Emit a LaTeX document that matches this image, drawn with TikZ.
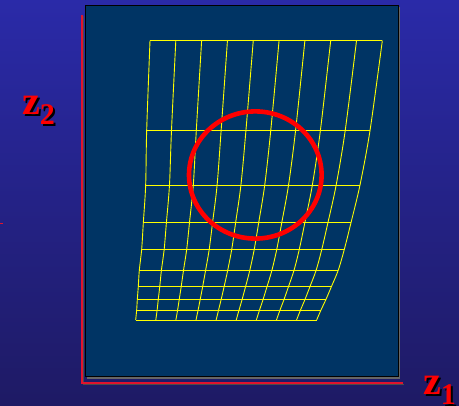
\documentclass[tikz,border=0pt]{standalone}
\usepackage{fontspec}
\setmainfont{Liberation Serif}
\definecolor{bgtop}{RGB}{42,42,168}
\definecolor{bgbot}{RGB}{30,26,100}
\definecolor{boxfill}{RGB}{0,52,100}
\definecolor{axisred}{RGB}{225,20,45}
\definecolor{gridyellow}{RGB}{255,255,0}
\tikzset{
  gridline/.style={draw=gridyellow, line width=0.9pt},
  axisline/.style={draw=axisred, line width=2pt},
  lbl/.style={anchor=base west, inner sep=0pt, font=\bfseries\fontsize{40}{40}\selectfont},
}
\newcommand{\zlab}[1]{z\raisebox{-10pt}{\fontsize{30}{30}\selectfont #1}}
\begin{document}
\begin{tikzpicture}[x=1pt,y=-1pt]
\useasboundingbox (0,0) rectangle (459,406);
\shade[top color=bgtop, bottom color=bgbot] (0,0) rectangle (459,406);
% axes
\draw[black!70, line width=1pt] (83,16) -- (83,384.5) -- (404,384.5);
\draw[axisline] (81.5,15) -- (81.5,383) -- (403,383);
\draw[axisred, line width=0.8pt] (0,223) -- (3,223);
% box
\fill[black!60] (87,7) rectangle (400,379);
\draw[fill=boxfill, draw=black, line width=1pt] (85.5,5.5) rectangle (398,377);
% grid
\def\ys{{40.67,130.67,185,222.67,249.33,270,286,299.33,310,320}}
\def\ls{{150,146.67,145.67,143.33,141.67,139.33,138.33,137.33,136.67,135.67}}
\def\rs{{382.33,370,360,351,344.33,338.33,331.67,326,321,316.67}}
\foreach \j in {0,...,9}{
  \pgfmathsetmacro\yy{\ys[\j]}
  \pgfmathsetmacro\ll{\ls[\j]}
  \pgfmathsetmacro\rr{\rs[\j]}
  \draw[gridline] (\ll,\yy) -- (\rr,\yy);
}
\foreach \i in {0,...,9}{
  \draw[gridline] plot[smooth, tension=0.5] coordinates {
    ({150+\i/9*(382.33-150)},40.67)
    ({146.67+\i/9*(370-146.67)},130.67)
    ({145.67+\i/9*(360-145.67)},185)
    ({143.33+\i/9*(351-143.33)},222.67)
    ({141.67+\i/9*(344.33-141.67)},249.33)
    ({139.33+\i/9*(338.33-139.33)},270)
    ({138.33+\i/9*(331.67-138.33)},286)
    ({137.33+\i/9*(326-137.33)},299.33)
    ({136.67+\i/9*(321-136.67)},310)
    ({135.67+\i/9*(316.67-135.67)},320)};
}
% circle
\draw[red, line width=4.6pt] (255.3,175) ellipse [x radius=66.3, y radius=63.6];
% labels
\node[lbl, text=black] (z2s) at (24,117) {\zlab{2}};
\node[lbl, text=red] (z2) at (22,115) {\zlab{2}};
\node[lbl, text=black] (z1s) at (425,397) {\zlab{1}};
\node[lbl, text=red] (z1) at (423,395) {\zlab{1}};
\end{tikzpicture}
\end{document}
